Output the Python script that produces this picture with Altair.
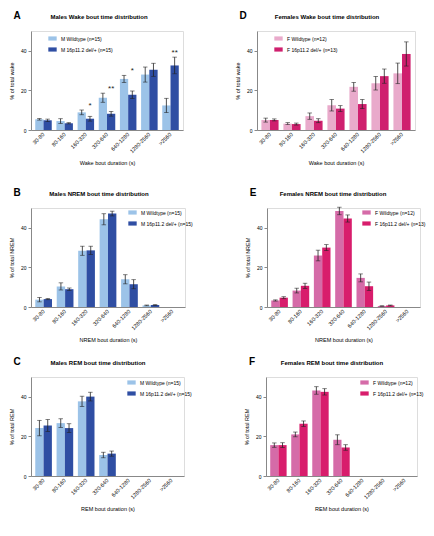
import altair as alt
import pandas as pd

categories = ["30-80", "80-160", "160-320", "320-640", "640-1280", "1280-2560", ">2560"]

male_groups = ["M Wildtype (n=15)", "M 16p11.2 del/+ (n=15)"]
female_groups = ["F Wildtype (n=12)", "F 16p11.2 del/+ (n=13)"]

# Males wake
m_wake_wt = [5.4, 4.5, 8.9, 16.3, 25.8, 28.0, 12.4]
m_wake_wt_err = [0.4, 1.2, 1.2, 2.3, 1.8, 3.8, 3.6]
m_wake_mut = [4.9, 3.4, 5.7, 8.2, 17.8, 30.4, 32.6]
m_wake_mut_err = [0.6, 0.3, 1.2, 1.2, 1.9, 3.3, 4.2]
m_wake_sig = ["", "", "*", "**", "*", "", "**"]

# Males NREM
m_nrem_wt = [3.7, 10.4, 28.4, 44.3, 14.0, 0.8, None]
m_nrem_wt_err = [1.1, 1.8, 2.3, 2.8, 2.3, 0.2, None]
m_nrem_mut = [4.0, 9.0, 28.6, 47.2, 11.5, 1.0, None]
m_nrem_mut_err = [0.3, 0.6, 2.1, 1.2, 2.3, 0.2, None]

# Males REM
m_rem_wt = [24.2, 26.7, 37.7, 10.6, None, None, None]
m_rem_wt_err = [3.9, 2.2, 2.6, 1.4, None, None, None]
m_rem_mut = [25.5, 24.2, 40.1, 11.3, None, None, None]
m_rem_mut_err = [3.0, 2.2, 2.2, 1.3, None, None, None]

# Females wake
f_wake_wt = [5.0, 3.2, 7.0, 12.5, 21.8, 23.6, 28.6]
f_wake_wt_err = [1.0, 0.5, 1.6, 2.9, 2.2, 3.4, 5.2]
f_wake_mut = [5.1, 3.0, 4.7, 10.8, 13.1, 27.2, 38.4]
f_wake_mut_err = [0.5, 0.5, 1.0, 1.5, 2.3, 3.6, 6.1]

# Females NREM
f_nrem_wt = [3.3, 8.3, 26.0, 48.5, 14.7, 0.5, None]
f_nrem_wt_err = [0.3, 1.2, 2.7, 1.9, 2.0, 0.1, None]
f_nrem_mut = [4.7, 10.7, 30.0, 44.7, 10.5, 0.8, None]
f_nrem_mut_err = [0.5, 1.3, 1.5, 1.8, 2.1, 0.2, None]

# Females REM
f_rem_wt = [15.6, 21.0, 43.2, 18.3, None, None, None]
f_rem_wt_err = [1.1, 1.2, 1.9, 2.5, None, None, None]
f_rem_mut = [15.6, 26.4, 42.5, 14.4, None, None, None]
f_rem_mut_err = [1.2, 1.4, 1.6, 1.4, None, None, None]

male_colors = ["#9CC3E8", "#2F4EA3"]
female_wake_colors = ["#E9AACB", "#CF1F6E"]
female_colors = ["#D56BA8", "#D81D6C"]

FONT = "Liberation Sans"
RECT = "M-1,-0.5H1V0.5H-1Z"
P_IN, P_OUT = 0.22, 0.2
EC = "#222222"


def panel(wt, wt_err, mut, mut_err, groups, colors, title, letter,
          ytitle, xtitle, lx, ly, width, tx, sig=None):
    rows = []
    for g, vals, errs in [(groups[0], wt, wt_err), (groups[1], mut, mut_err)]:
        for c, v, e in zip(categories, vals, errs):
            if v is None:
                continue
            rows.append({"cat": c, "group": g, "value": v,
                         "lo": v - e, "hi": v + e})
    df = pd.DataFrame(rows)

    n = len(categories)
    step = width / (n - P_IN + 2 * P_OUT)
    bw = step * (1 - P_IN)
    half = bw / 2.0

    x = alt.X("cat:N", sort=categories,
              scale=alt.Scale(type="band", domain=categories,
                              paddingInner=P_IN, paddingOuter=P_OUT),
              axis=alt.Axis(title=xtitle, labelAngle=-45, labelAlign="right",
                            labelBaseline="middle", labelFontSize=5.5, titleFontSize=5.5,
                            titleFontWeight="normal", titlePadding=6, tickSize=0,
                            labelPadding=3, grid=False))
    yscale = alt.Scale(domain=[0, 50], nice=False)
    yaxis = alt.Axis(title=ytitle, values=[0, 10, 20, 30, 40, 50],
                     labelFontSize=5, titleFontSize=5.5, titleFontWeight="normal",
                     tickSize=3, titlePadding=6, labelPadding=2, grid=False)
    color = alt.Color("group:N", sort=groups,
                      scale=alt.Scale(domain=groups, range=colors),
                      legend=alt.Legend(title=None, orient="none", legendX=lx, legendY=ly,
                                        symbolType=RECT, symbolSize=70,
                                        symbolStrokeWidth=0, labelFontSize=5,
                                        labelFont=FONT, rowPadding=3, padding=0,
                                        labelOffset=4, labelLimit=200))

    base = alt.Chart(df)
    layers = []
    for g, off in [(groups[0], -half / 2), (groups[1], half / 2)]:
        sub = base.transform_filter(alt.datum.group == g)
        layers.append(sub.mark_bar(width=half, xOffset=off).encode(
            x=x, y=alt.Y("value:Q", scale=yscale, axis=yaxis), color=color))
    for g, off in [(groups[0], -half / 2), (groups[1], half / 2)]:
        sub = base.transform_filter(alt.datum.group == g)
        layers.append(sub.mark_rule(color=EC, strokeWidth=0.8, xOffset=off).encode(
            x=x, y=alt.Y("lo:Q", scale=yscale), y2="hi:Q"))
        layers.append(sub.mark_tick(color=EC, thickness=0.8, size=4.5, xOffset=off).encode(
            x=x, y=alt.Y("lo:Q", scale=yscale)))
        layers.append(sub.mark_tick(color=EC, thickness=0.8, size=4.5, xOffset=off).encode(
            x=x, y=alt.Y("hi:Q", scale=yscale)))

    head = alt.Chart(pd.DataFrame({"t": [letter], "h": [title]}))
    layers.append(head.mark_text(
        font=FONT, fontSize=10, fontWeight="bold", align="center", baseline="alphabetic",
        color="black").encode(text="t:N", x=alt.value(-14), y=alt.value(-12)))
    layers.append(head.mark_text(
        font=FONT, fontSize=6, fontWeight="bold", align="center", baseline="alphabetic",
        color="black").encode(text="h:N", x=alt.value(tx), y=alt.value(-12)))
    if sig is not None:
        srows = []
        for c, s, a, ae, b, be in zip(categories, sig, wt, wt_err, mut, mut_err):
            if s:
                srows.append({"cat": c, "s": s, "y": max(a + ae, b + be) + 1.2})
        sdf = pd.DataFrame(srows)
        layers.append(alt.Chart(sdf).mark_text(
            font=FONT, fontSize=8, color=EC, baseline="alphabetic",
            xOffset=half / 2).encode(
            x=x, y=alt.Y("y:Q", scale=yscale), text="s:N"))
    return alt.layer(*layers).properties(width=width, height=99)


A = panel(m_wake_wt, m_wake_wt_err, m_wake_mut, m_wake_mut_err, male_groups, male_colors,
          "Males Wake bout time distribution", "A", "% of total wake",
          "Wake bout duration (s)", 17, 3, 152, 68, sig=m_wake_sig)
B = panel(m_nrem_wt, m_nrem_wt_err, m_nrem_mut, m_nrem_mut_err, male_groups, male_colors,
          "Males NREM bout time distribution", "B", "% of total NREM",
          "NREM bout duration (s)", 97, 0, 154, 68)
C = panel(m_rem_wt, m_rem_wt_err, m_rem_mut, m_rem_mut_err, male_groups, male_colors,
          "Males REM bout time distribution", "C", "% of total REM",
          "REM bout duration (s)", 96, 1, 153, 67)
D = panel(f_wake_wt, f_wake_wt_err, f_wake_mut, f_wake_mut_err, female_groups,
          female_wake_colors, "Females Wake bout time distribution", "D",
          "% of total wake", "Wake bout duration (s)", 17, 3, 158, 70)
E = panel(f_nrem_wt, f_nrem_wt_err, f_nrem_mut, f_nrem_mut_err, female_groups,
          female_colors, "Females NREM bout time distribution", "E",
          "% of total NREM", "NREM bout duration (s)", 95, 0, 153, 66)
F = panel(f_rem_wt, f_rem_wt_err, f_rem_mut, f_rem_mut_err, female_groups,
          female_colors, "Females REM bout time distribution", "F",
          "% of total REM", "REM bout duration (s)", 94, 1, 151, 66)


def row(left, right):
    return alt.hconcat(left, right, spacing=50).resolve_scale(
        color="independent").resolve_legend(color="independent")


top = alt.vconcat(row(A, D), row(B, E), spacing=20).resolve_scale(
    color="independent").resolve_legend(color="independent")

chart = alt.vconcat(top, row(C, F), spacing=12).resolve_scale(
    color="independent").resolve_legend(color="independent").properties(
    padding={"left": 8, "top": 10, "right": 5, "bottom": 5}
).configure_view(stroke=None).configure_axis(
    domainColor="black", tickColor="black", labelColor="black", titleColor="black",
    grid=False, labelFont=FONT, titleFont=FONT, domainWidth=1
).configure(background="white")

chart.save("out.html", embed_options={"renderer": "svg", "actions": False})
